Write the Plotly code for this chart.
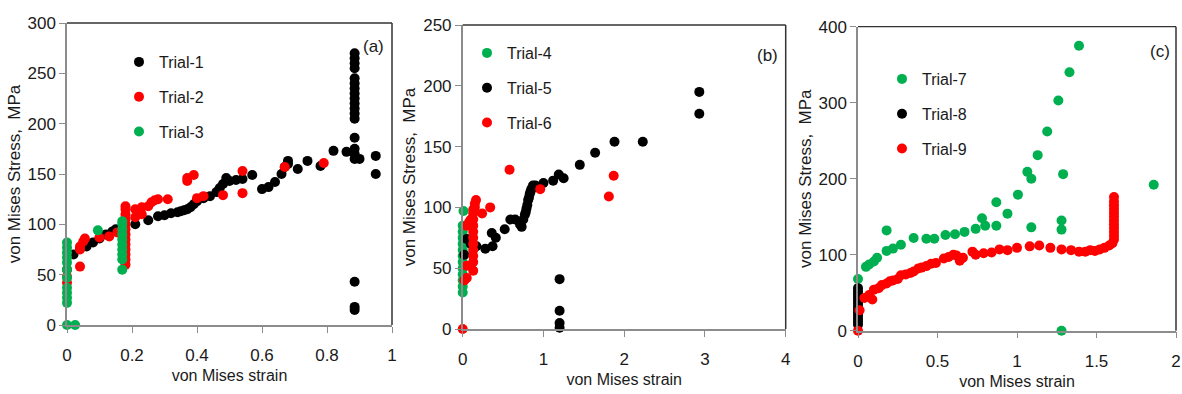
import plotly.graph_objects as go

# ---------------- panel (a) ----------------
t1_x = [0.02, 0.04, 0.06, 0.08, 0.10, 0.12, 0.14, 0.15, 0.21, 0.25, 0.28, 0.30, 0.32, 0.34,
        0.35, 0.36, 0.37, 0.38, 0.39, 0.40, 0.42, 0.44, 0.46, 0.47, 0.48, 0.49, 0.50, 0.52,
        0.54, 0.57, 0.60, 0.62, 0.64, 0.66, 0.67, 0.68, 0.68, 0.71, 0.74, 0.78, 0.82, 0.86,
        0.885, 0.885, 0.885, 0.885, 0.885, 0.885, 0.885, 0.885, 0.885, 0.885, 0.885, 0.885,
        0.885, 0.885, 0.885, 0.885, 0.885, 0.90, 0.95, 0.95, 0.885, 0.885, 0.885]
t1_y = [70, 76, 78, 82, 86, 90, 93, 95, 100, 104, 108, 109, 111, 112,
        113, 114, 115, 117, 120, 123, 126, 128, 132, 136, 140, 146, 143, 144,
        145, 149, 135, 137, 142, 150, 157, 163, 160, 155, 163, 158, 173, 172,
        165, 170, 175, 186, 205, 210, 215, 220, 225, 230, 235, 240, 245, 255,
        260, 265, 270, 165, 168, 150, 43, 18, 15]

t2_x = [0.0, 0.0, 0.0, 0.04, 0.04, 0.04, 0.05, 0.055, 0.10, 0.13, 0.155,
        0.18, 0.18, 0.18, 0.18, 0.18, 0.18, 0.18, 0.18, 0.18, 0.18, 0.18, 0.18, 0.18,
        0.21, 0.21, 0.23, 0.23, 0.25, 0.26, 0.27, 0.28, 0.31, 0.37, 0.37, 0.39,
        0.40, 0.42, 0.48, 0.54, 0.54, 0.67, 0.79]
t2_y = [42, 48, 55, 58, 75, 78, 83, 86, 87, 88, 92,
        60, 65, 70, 75, 80, 85, 90, 95, 100, 105, 110, 115, 118,
        107, 115, 110, 117, 118, 122, 124, 125, 125, 143, 146, 149,
        126, 128, 129, 153, 131, 157, 161]

t3_x = [0, 0, 0, 0, 0, 0, 0, 0, 0, 0, 0, 0, 0.025, 0.095,
        0.17, 0.17, 0.17, 0.17, 0.17, 0.17, 0.17, 0.17, 0.17, 0.17]
t3_y = [0, 22, 27, 32, 37, 47, 55, 62, 67, 72, 77, 82, 0, 94,
        55, 65, 70, 75, 80, 85, 90, 95, 100, 103]

# ---------------- panel (b) ----------------
t4_x = [0, 0, 0, 0, 0, 0, 0, 0, 0, 0, 0, 0, 0.01]
t4_y = [30, 35, 40, 45, 50, 55, 60, 65, 70, 75, 80, 85, 97]

t5_x = [0.02, 0.05, 0.10, 0.17, 0.28, 0.36, 0.37, 0.41, 0.52, 0.59, 0.65, 0.71, 0.73, 0.75,
        0.77, 0.78, 0.79, 0.80, 0.81, 0.82, 0.83, 0.84, 0.85, 0.87, 0.90, 1.00, 1.12, 1.19,
        1.25, 1.45, 1.64, 1.88, 2.23, 2.93, 2.93, 1.20, 1.20, 1.20, 1.20]
t5_y = [61, 74, 70, 68, 66, 79, 68, 75, 82, 90, 90, 86, 84, 90,
        94, 96, 99, 102, 106, 108, 111, 113, 115, 118, 118, 120, 122, 127,
        124, 135, 145, 154, 154, 195, 177, 41, 15, 5, 1]

t6_x = [0.0, 0.02, 0.05, 0.05, 0.05, 0.08, 0.10,
        0.13, 0.13, 0.13, 0.13, 0.13, 0.13, 0.13, 0.13, 0.13, 0.13, 0.13,
        0.15, 0.15, 0.165, 0.24, 0.34, 0.58, 0.96, 1.81, 1.87]
t6_y = [0, 40, 42, 52, 85, 88, 90,
        48, 55, 60, 65, 70, 75, 80, 85, 90, 95, 98,
        100, 103, 106, 95, 100, 131, 115, 109, 126]

# ---------------- panel (c) ----------------
t7_x = [0.0, 0.05, 0.07, 0.10, 0.12, 0.18, 0.18, 0.22, 0.27, 0.35, 0.43, 0.48, 0.55,
        0.61, 0.67, 0.74, 0.78, 0.80, 0.87, 0.87, 0.94, 1.006, 1.065, 1.09, 1.13,
        1.19, 1.26, 1.33, 1.39, 1.29, 1.09, 1.28, 1.28, 1.28, 1.86]
t7_y = [68, 84, 87, 91, 96, 132, 105, 108, 113, 122, 121, 121, 126,
        127, 130, 134, 148, 138, 138, 169, 154, 179, 209, 200, 231,
        262, 303, 340, 375, 206, 136, 145, 133, 0, 192]

t8_x = [0, 0, 0, 0, 0, 0, 0, 0, 0, 0, 0, 0, 0]
t8_y = [8, 12, 16, 20, 24, 28, 32, 36, 40, 44, 48, 52, 56]

t9_x = [0.0, 0.01, 0.04, 0.07, 0.09, 0.10, 0.13, 0.15, 0.18, 0.20, 0.22, 0.25, 0.27,
        0.30, 0.33, 0.35, 0.38, 0.40, 0.43, 0.46, 0.49, 0.54, 0.57, 0.60, 0.62,
        0.64, 0.66, 0.72, 0.74, 0.79, 0.84, 0.89, 0.94, 1.00, 1.08, 1.14, 1.21,
        1.28, 1.34, 1.39, 1.43, 1.46, 1.49, 1.52, 1.55, 1.58, 1.60,
        1.61, 1.61, 1.61, 1.61, 1.61, 1.61, 1.61, 1.61, 1.61, 1.61, 1.61, 1.61]
t9_y = [0, 27, 43, 47, 41, 54, 56, 60, 62, 65, 66, 68, 73,
        74, 76, 78, 82, 83, 85, 88, 89, 95, 97, 100, 99,
        92, 96, 104, 100, 102, 103, 107, 106, 109, 111, 112, 109,
        107, 106, 104, 104, 106, 105, 107, 109, 112, 115,
        120, 125, 130, 135, 140, 145, 150, 155, 160, 165, 170, 176]

BLACK, RED, GREEN = "#000000", "#FF0000", "#00B050"
TICK_FONT = dict(family="Liberation Sans, Arial", size=17, color="#1a1a1a")
XTITLE_FONT = dict(family="Liberation Sans, Arial", size=16, color="#1a1a1a")
YTITLE_FONT = dict(family="Liberation Sans, Arial", size=17, color="#1a1a1a")
LEGEND_FONT = dict(family="Liberation Sans, Arial", size=16, color="#1a1a1a")
LETTER_FONT = dict(family="Liberation Sans, Arial", size=17, color="#1a1a1a")

fig = go.Figure()

panels = [
    ("x", "y", "legend", [("Trial-1", t1_x, t1_y, BLACK),
                           ("Trial-2", t2_x, t2_y, RED),
                           ("Trial-3", t3_x, t3_y, GREEN)]),
    ("x2", "y2", "legend2", [("Trial-4", t4_x, t4_y, GREEN),
                              ("Trial-5", t5_x, t5_y, BLACK),
                              ("Trial-6", t6_x, t6_y, RED)]),
    ("x3", "y3", "legend3", [("Trial-7", t7_x, t7_y, GREEN),
                              ("Trial-8", t8_x, t8_y, BLACK),
                              ("Trial-9", t9_x, t9_y, RED)]),
]

for xa, ya, lg, traces in panels:
    for name, xs, ys, col in traces:
        fig.add_trace(go.Scatter(
            x=xs, y=ys, mode="markers", name=name, xaxis=xa, yaxis=ya,
            legend=lg, legendgroup=name, cliponaxis=False,
            marker=dict(color=col, size=10, line=dict(width=0)),
        ))

H = 394.0
W = 1182.0
# plot-area boxes in pixels: (left, right, top, bottom)
boxes = [(67, 392, 23, 325), (462.7, 785.7, 25, 329), (858, 1176, 26.7, 330.7)]
xranges = [[0, 1], [0, 4], [0, 2]]
xdticks = [0.2, 1, 0.5]
yranges = [[0, 300], [0, 250], [0, 400]]
ydticks = [50, 50, 100]

axis_common = dict(
    showgrid=False, zeroline=False, showline=True, linecolor="#8c8c8c", linewidth=1.5,
    ticks="outside", ticklen=6, tickcolor="#8c8c8c", tickwidth=1.2,
    tickfont=TICK_FONT, automargin=False,
)

for i, (l, r, t, b) in enumerate(boxes):
    sfx = "" if i == 0 else str(i + 1)
    fig.layout["xaxis" + sfx] = dict(
        axis_common, domain=[l / W, r / W], range=xranges[i], dtick=xdticks[i], tick0=0,
        anchor="y" + sfx, ticklabelstandoff=8,
        title=dict(text="von Mises strain", font=XTITLE_FONT, standoff=6),
    )
    fig.layout["yaxis" + sfx] = dict(
        axis_common, domain=[1 - b / H, 1 - t / H], range=yranges[i], dtick=ydticks[i], tick0=0,
        anchor="x" + sfx,
        title=dict(text="von Mises Stress,  MPa", font=YTITLE_FONT, standoff=3),
    )
    # top and right frame edges
    fig.add_shape(type="line", xref=f"x{sfx} domain", yref=f"y{sfx} domain",
                  x0=0, x1=1, y0=1, y1=1, line=dict(color="#333333", width=1.3))
    fig.add_shape(type="line", xref=f"x{sfx} domain", yref=f"y{sfx} domain",
                  x0=1, x1=1, y0=0, y1=1, line=dict(color="#333333", width=1.5))

# panel letters
for (label, px, py) in [("(a)", 373, 47), ("(b)", 768, 55), ("(c)", 1160, 52)]:
    fig.add_annotation(x=px / W, y=1 - py / H, xref="paper", yref="paper", text=label,
                       showarrow=False, font=LETTER_FONT, xanchor="center", yanchor="middle")

legend_common = dict(
    bgcolor="rgba(0,0,0,0)", borderwidth=0, font=LEGEND_FONT, tracegroupgap=11,
    itemsizing="trace", xanchor="left", yanchor="top",
)
fig.update_layout(
    width=1182, height=394,
    margin=dict(l=0, r=0, t=0, b=0),
    paper_bgcolor="white", plot_bgcolor="white",
    showlegend=True,
    legend=dict(legend_common, x=119 / W, y=1 - 45 / H),
    legend2=dict(legend_common, x=467 / W, y=1 - 36 / H),
    legend3=dict(legend_common, x=882 / W, y=1 - 62 / H),
)

fig.write_html("out.html")
